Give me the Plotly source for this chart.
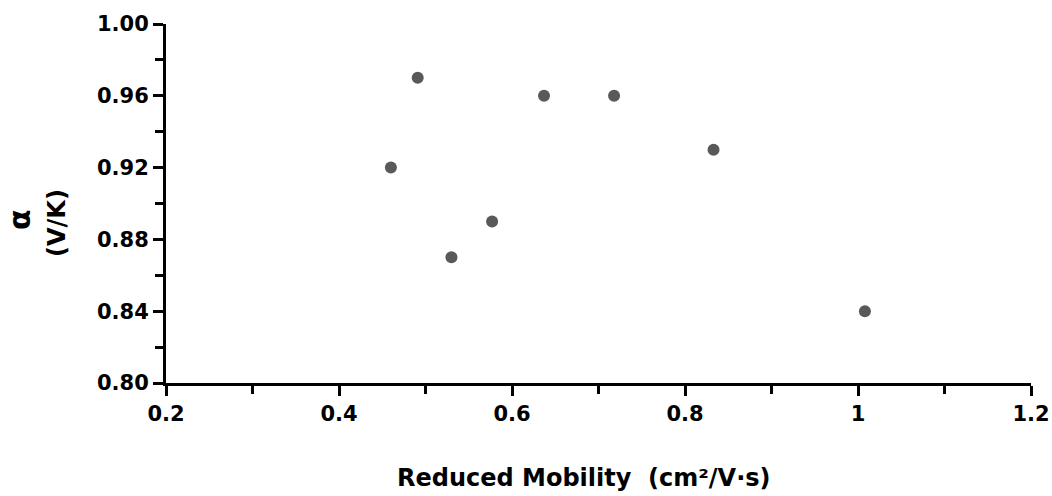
import plotly.graph_objects as go

mobility = [0.460, 0.491, 0.530, 0.577, 0.637, 0.718, 0.833, 1.008]
alpha = [0.92, 0.97, 0.87, 0.89, 0.96, 0.96, 0.93, 0.84]

x_title = "Reduced Mobility  (cm²/V·s)"
y_title_1 = "α"
y_title_2 = "(V/K)"

L, R, T, B = 166, 21, 24, 113
W, H = 1052, 496
pw, ph = W - L - R, H - T - B

fig = go.Figure()
fig.add_trace(go.Scatter(
    x=mobility, y=alpha, mode="markers",
    marker=dict(color="#595959", size=12, line=dict(width=0)),
    showlegend=False, hoverinfo="skip",
))

tickfont = dict(family="DejaVu Sans", size=21, color="black", weight="bold")
axis_common = dict(
    showline=True, linecolor="black", linewidth=3,
    ticks="outside", ticklen=10, tickwidth=3, tickcolor="black",
    showgrid=False, zeroline=False, tickfont=tickfont, mirror=False,
    automargin=False,
)

fig.update_xaxes(range=[0.2, 1.2], dtick=0.2, tick0=0.2,
                 minor=dict(ticks="outside", ticklen=8, tickwidth=3, tickcolor="black", dtick=0.1, showgrid=False),
                 **axis_common)
fig.update_yaxes(range=[0.8, 1.0], dtick=0.04, tick0=0.8, tickformat=".2f",
                 minor=dict(ticks="outside", ticklen=8, tickwidth=3, tickcolor="black", dtick=0.02, showgrid=False),
                 **axis_common)

titlefont = dict(family="DejaVu Sans", size=24, color="black", weight="bold")
alphafont = dict(family="DejaVu Sans", size=30, color="black", weight="bold")
fig.add_annotation(text=x_title, xref="paper", yref="paper",
                   x=(584 - L) / pw, y=(H - B - 478) / ph,
                   xanchor="center", yanchor="middle", showarrow=False, font=titlefont)
fig.add_annotation(text=y_title_1, xref="paper", yref="paper",
                   x=(19 - L) / pw, y=(H - B - 220) / ph, textangle=-90,
                   xanchor="center", yanchor="middle", showarrow=False, font=alphafont)
fig.add_annotation(text=y_title_2, xref="paper", yref="paper",
                   x=(57 - L) / pw, y=(H - B - 223) / ph, textangle=-90,
                   xanchor="center", yanchor="middle", showarrow=False, font=titlefont)

fig.update_layout(
    width=W, height=H,
    margin=dict(l=L, r=R, t=T, b=B),
    plot_bgcolor="white", paper_bgcolor="white",
    hovermode=False,
)

fig.write_html("out.html",
               config={"displayModeBar": False},
               post_script="document.body.style.margin='0';document.body.style.overflow='hidden';")
